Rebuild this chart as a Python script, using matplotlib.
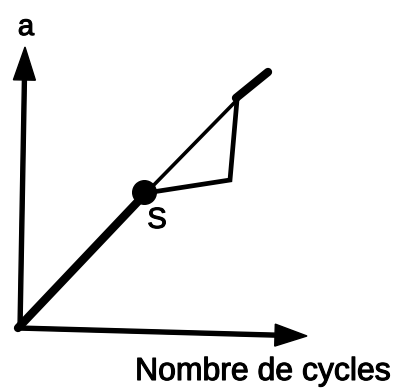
import matplotlib
matplotlib.use("Agg")
import matplotlib.pyplot as plt
import matplotlib.patheffects as pe

# Schematic data (arbitrary units: cycles vs crack length a)
main_x = [0, 128]          # origin -> S (thick)
main_y = [0, 135]
thin_x = [128, 219]        # straight continuation from S (thin)
thin_y = [135, 228]
branch_x = [128, 212, 219] # deviation loop S -> detour -> back on line
branch_y = [135, 148, 228]
end_x = [218, 250]         # final thick segment
end_y = [230, 256]
S_point = (126, 136)

yaxis_top = (7, 281)
xaxis_end = (289, -8)

fig = plt.figure(figsize=(4.06, 3.89), dpi=100)
ax = fig.add_axes([0, 0, 1, 1])
ax.set_xlim(-18, 388)
ax.set_ylim(-61, 328)
ax.axis("off")

# axes arrows
ax.arrow(2, 0, yaxis_top[0] - 2, yaxis_top[1], width=4, head_width=22,
         head_length=33, length_includes_head=True, color="black")
ax.arrow(0, 0, xaxis_end[0], xaxis_end[1], width=4, head_width=22,
         head_length=32, length_includes_head=True, color="black")

ax.plot(main_x, main_y, color="black", lw=6.0, solid_capstyle="round")
ax.plot(thin_x, thin_y, color="black", lw=2.6)
ax.plot(branch_x, branch_y, color="black", lw=3.4, solid_joinstyle="miter")
ax.plot(end_x, end_y, color="black", lw=6.0, solid_capstyle="round")
ax.plot([S_point[0]], [S_point[1]], "o", color="black", ms=17)

font = "Liberation Sans"
eff = [pe.withStroke(linewidth=0.8, foreground="black")]
ax.text(8, 301, "a", fontsize=21, family=font, ha="center", va="center",
        path_effects=eff)
ax.text(139, 108, "S", fontsize=21, family=font, ha="center", va="center",
        path_effects=eff)
ax.text(245, -44, "Nombre de cycles", fontsize=23, family=font,
        ha="center", va="center", path_effects=eff)

fig.savefig("out.png", dpi=100)
